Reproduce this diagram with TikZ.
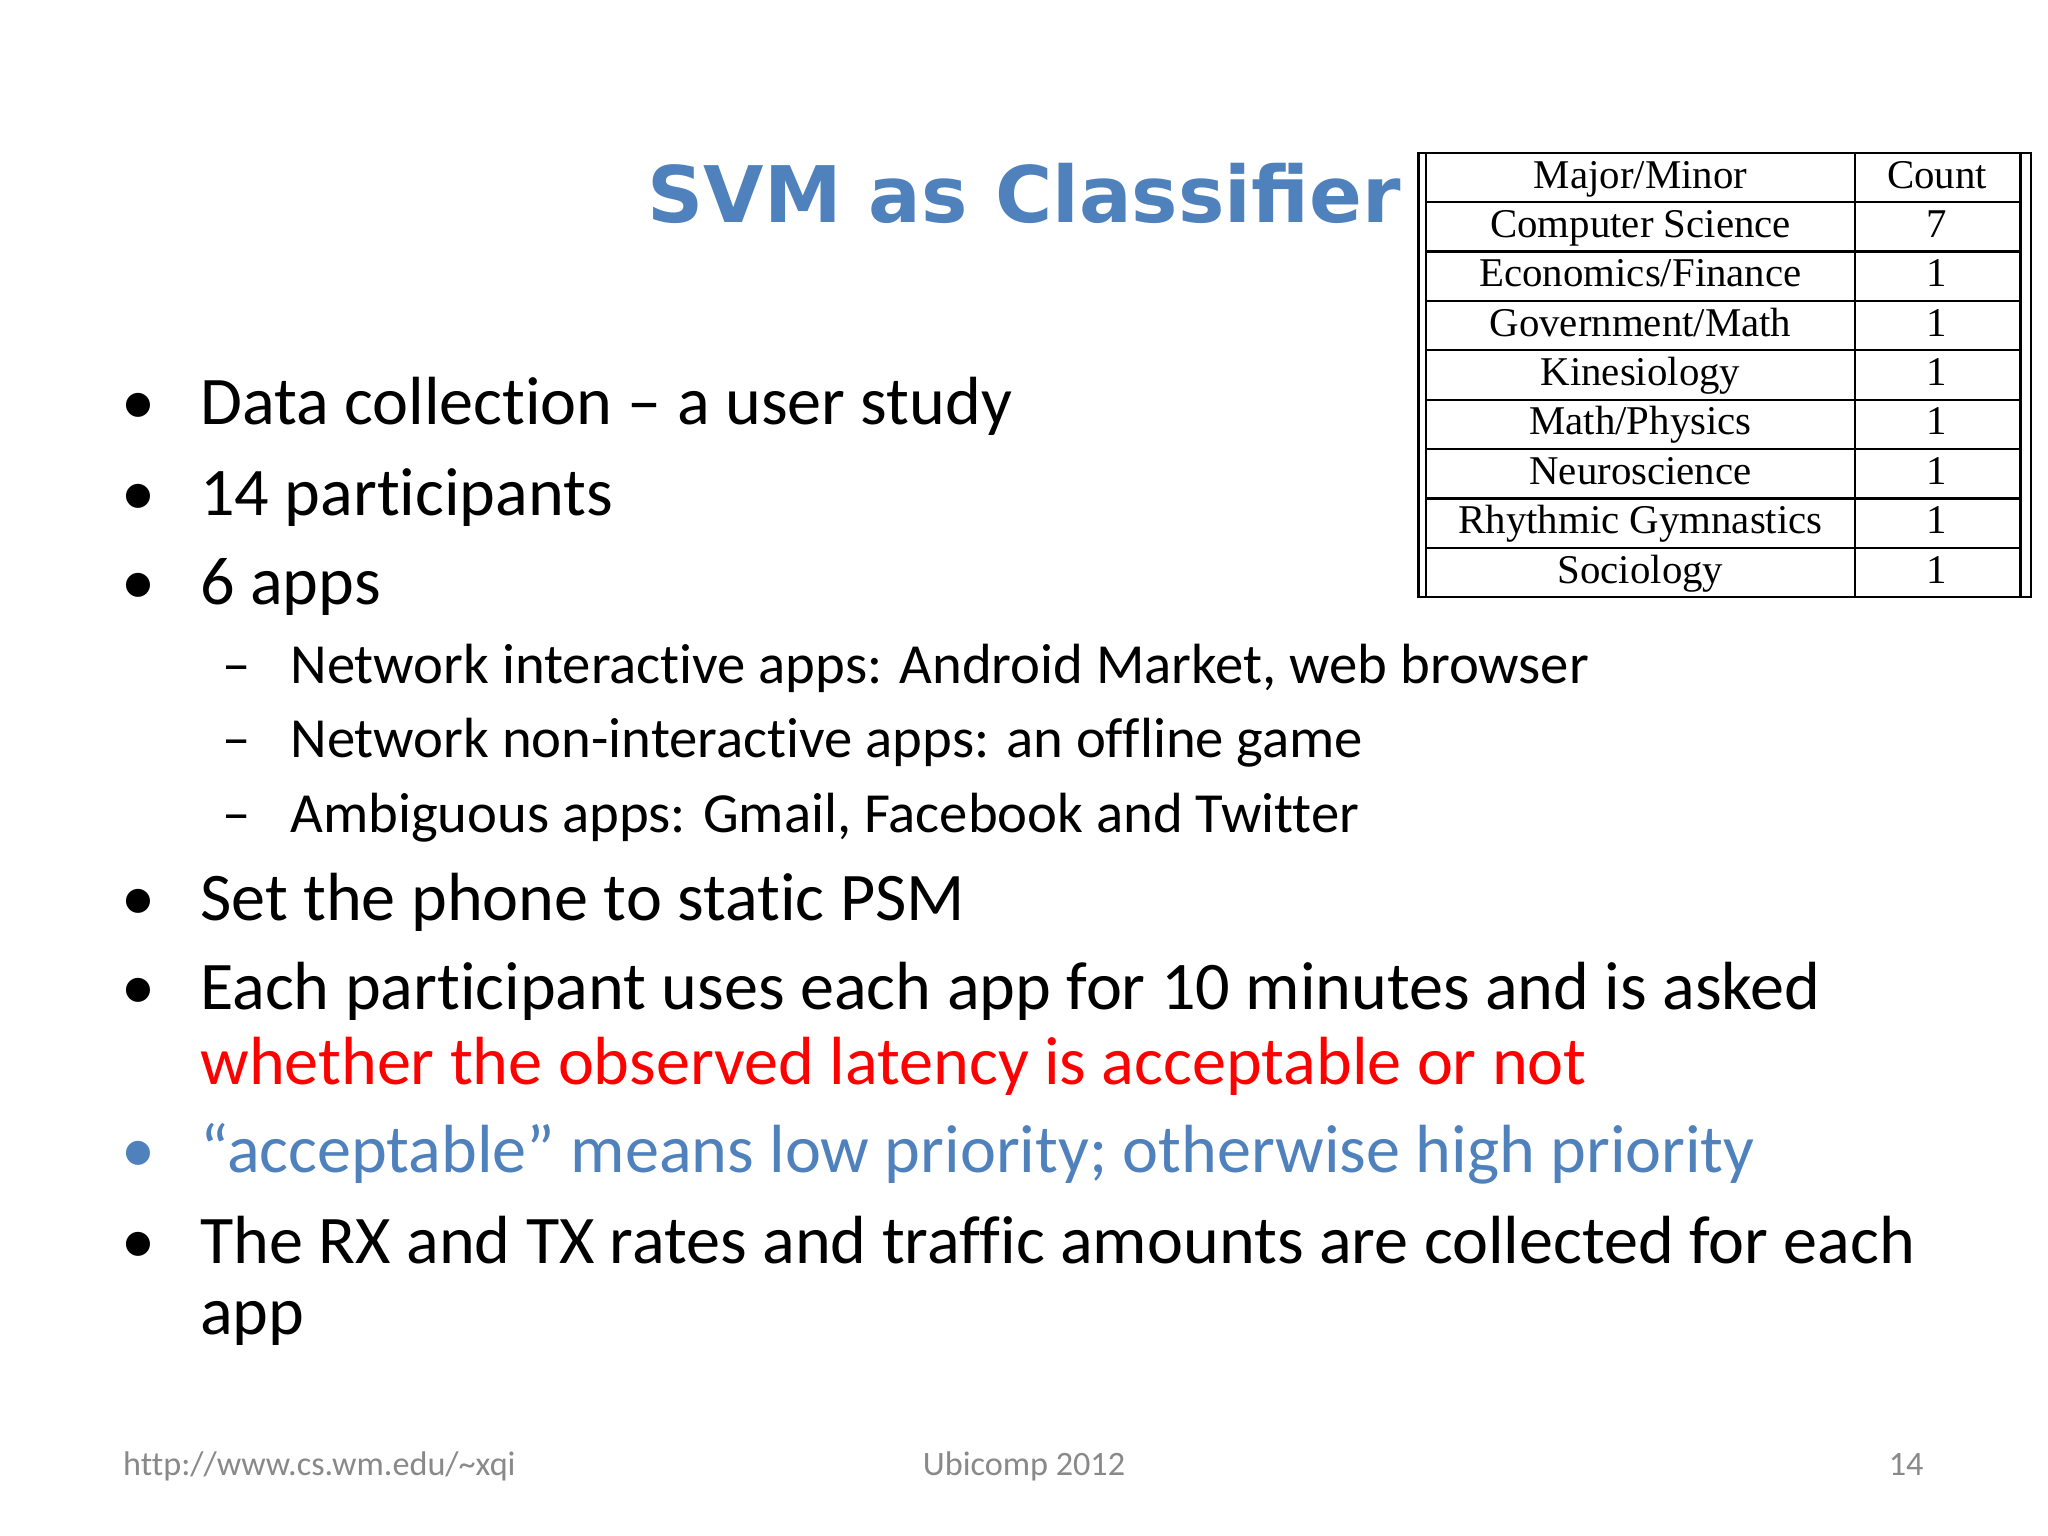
\documentclass[tikz,border=0pt]{standalone}
\usepackage{fontspec}
\setmainfont[Ligatures=NoCommon]{Carlito}
\newfontfamily\titlefont{DejaVu Sans}
\newfontfamily\tabfont{Liberation Serif}
\definecolor{tblue}{RGB}{79,129,189}
\definecolor{fgray}{RGB}{137,137,137}
\begin{document}
\begin{tikzpicture}[x=0.02cm,y=-0.02cm,
  body/.style={anchor=base west,inner sep=0pt,font=\fontsize{29.7}{34}\selectfont},
  sub/.style={anchor=base west,inner sep=0pt,font=\fontsize{24.7}{29}\selectfont},
  foot/.style={inner sep=0pt,text=fgray,font=\fontsize{14.9}{18}\selectfont},
  cell/.style={anchor=base,inner sep=0pt,font=\tabfont\fontsize{17.8}{20}\selectfont}]
\fill[white] (0,0) rectangle (1568,1176);
\node[anchor=base,inner sep=0pt,text=tblue,font=\titlefont\bfseries\fontsize{34}{40}\selectfont] (title) at (784,170) {SVM as Classifier};
% bullets
\foreach \y/\n in {325/b1,395/b2,463/b3,705/b4,773/b5,967/b7}{\node[body] (\n d) at (93,\y) {•};}
\node[body,text=tblue] (b6d) at (93,898) {•};
\node[body] (b1) at (153,325) {Data collection – a user study};
\node[body] (b2) at (153,395) {14 participants};
\node[body] (b3) at (153,463) {6 apps};
\foreach \y/\n/\t in {523/s1/{Network interactive apps: Android Market, web browser},580/s2/{Network non-interactive apps: an offline game},637/s3/{Ambiguous apps: Gmail, Facebook and Twitter}}{
  \node[sub] (\n d) at (170,\y) {–};
  \node[sub] (\n) at (222,\y) {\t};}
\node[body] (b4) at (153,705) {Set the phone to static PSM};
\node[body] (b5) at (153,773) {Each participant uses each app for 10 minutes and is asked};
\node[body,text=red] (b5b) at (153,830) {whether the observed latency is acceptable or not};
\node[body,text=tblue] (b6) at (153,898) {“acceptable” means low priority; otherwise high priority};
\node[body] (b7) at (153,967) {The RX and TX rates and traffic amounts are collected for each};
\node[body] (b7b) at (153,1022) {app};
% footer
\node[foot,anchor=base west] (f1) at (94,1130) {http://www.cs.wm.edu/\textasciitilde xqi};
\node[foot,anchor=base] (f2) at (784,1130) {Ubicomp 2012};
\node[foot,anchor=base east] (f3) at (1473,1130) {14};
% table
\draw[line width=1pt] (1086,117) rectangle (1555,457);
\draw[line width=1pt] (1092,117) -- (1092,457);
\draw[line width=1pt] (1547,117) -- (1547,457);
\draw[line width=1pt] (1420,117) -- (1420,457);
\foreach \i in {1,...,8}{\draw[line width=1pt] (1092,{117+\i*37.8}) -- (1547,{117+\i*37.8});}
\foreach \t/\c [count=\i from 0] in {{Major/Minor}/Count,{Computer Science}/7,{Economics/Finance}/1,{Government/Math}/1,Kinesiology/1,{Math/Physics}/1,Neuroscience/1,{Rhythmic Gymnastics}/1,Sociology/1}{
  \node[cell] (r\i a) at (1256,{144+\i*37.8}) {\t};
  \node[cell] (r\i b) at (1483,{144+\i*37.8}) {\c};}
\end{tikzpicture}
\end{document}
